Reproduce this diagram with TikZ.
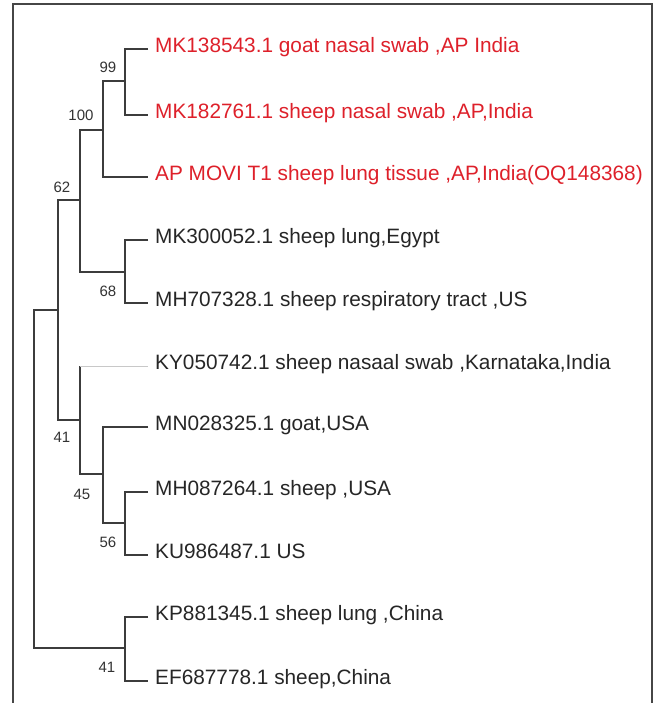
\documentclass[tikz,border=0pt]{standalone}
\usepackage{fontspec}
\setmainfont{Liberation Sans}
\definecolor{redlab}{RGB}{222,32,42}
\definecolor{branch}{RGB}{60,60,60}
\definecolor{frame}{RGB}{70,70,70}
\definecolor{faint}{RGB}{200,200,200}
\begin{document}
\begin{tikzpicture}[x=1pt,y=-1pt,
  leaf/.style={anchor=west,inner sep=0pt,font=\fontsize{20.8}{24}\selectfont,text height=0.72em,text depth=0pt,text=black!85},
  redleaf/.style={leaf,text=redlab},
  boot/.style={inner sep=0pt,font=\fontsize{15}{17}\selectfont,text=black!80},
  br/.style={draw=branch,line width=1.4pt},
  tip/.style={shorten <=7pt,shorten >=7pt},
  tipend/.style={shorten >=7pt},
  tipstart/.style={shorten <=7pt}]
\useasboundingbox (0,0) rectangle (660,703);
\fill[white] (0,0) rectangle (660,703);
% frame
\draw[frame,line width=1.2pt] (13,703) -- (13,4) -- (652,4) -- (652,703);
% leaves
\node[redleaf] (L1) at (155,49) {MK138543.1 goat nasal swab ,AP India};
\node[redleaf] (L2) at (155,115) {MK182761.1 sheep nasal swab ,AP,India};
\node[redleaf] (L3) at (155,177) {AP MOVI T1 sheep lung tissue ,AP,India(OQ148368)};
\node[leaf] (L4) at (155,240) {MK300052.1 sheep lung,Egypt};
\node[leaf] (L5) at (155,303) {MH707328.1 sheep respiratory tract ,US};
\node[leaf] (L6) at (155,366) {KY050742.1 sheep nasaal swab ,Karnataka,India};
\node[leaf] (L7) at (155,427) {MN028325.1 goat,USA};
\node[leaf] (L8) at (155,492) {MH087264.1 sheep ,USA};
\node[leaf] (L9) at (155,555) {KU986487.1 US};
\node[leaf] (L10) at (155,617) {KP881345.1 sheep lung ,China};
\node[leaf] (L11) at (155,681) {EF687778.1 sheep,China};
% internal nodes
\coordinate (n99) at (125,81);
\coordinate (n100) at (103,130);
\coordinate (n68) at (125,272);
\coordinate (n62) at (80,200);
\coordinate (n56) at (125,523);
\coordinate (n45) at (103,474);
\coordinate (n41a) at (80,420);
\coordinate (nA) at (58,310);
\coordinate (n41b) at (125,648);
\coordinate (root) at (34,479);
% branches
\draw[br,tip] (L1.west) -| (n99) |- (L2.west);
\draw[br,tipend] (n99) -| (n100) |- (L3.west);
\draw[br,tip] (L4.west) -| (n68) |- (L5.west);
\draw[br] (n100) -| (n62) |- (n68);
\draw[br,tip] (L8.west) -| (n56) |- (L9.west);
\draw[br,tipstart] (L7.west) -| (n45);
\draw[br] (n45) |- (n56);
\draw[br] (n41a |- L6.west) -- (n41a) |- (n45);
\draw[draw=faint,line width=0.8pt,tipend] (n41a |- L6.west) -- (L6.west);
\draw[br] (n62) -| (nA) |- (n41a);
\draw[br,tip] (L10.west) -| (n41b) |- (L11.west);
\draw[br] (nA) -| (root) |- (n41b);
% bootstrap values
\node[boot] (b99) at (108,67) {99};
\node[boot] (b100) at (81,115) {100};
\node[boot] (b62) at (62,187) {62};
\node[boot] (b68) at (108,291) {68};
\node[boot] (b41a) at (62,437) {41};
\node[boot] (b45) at (82,494) {45};
\node[boot] (b56) at (108,542) {56};
\node[boot] (b41b) at (107,667) {41};
\end{tikzpicture}
\end{document}
